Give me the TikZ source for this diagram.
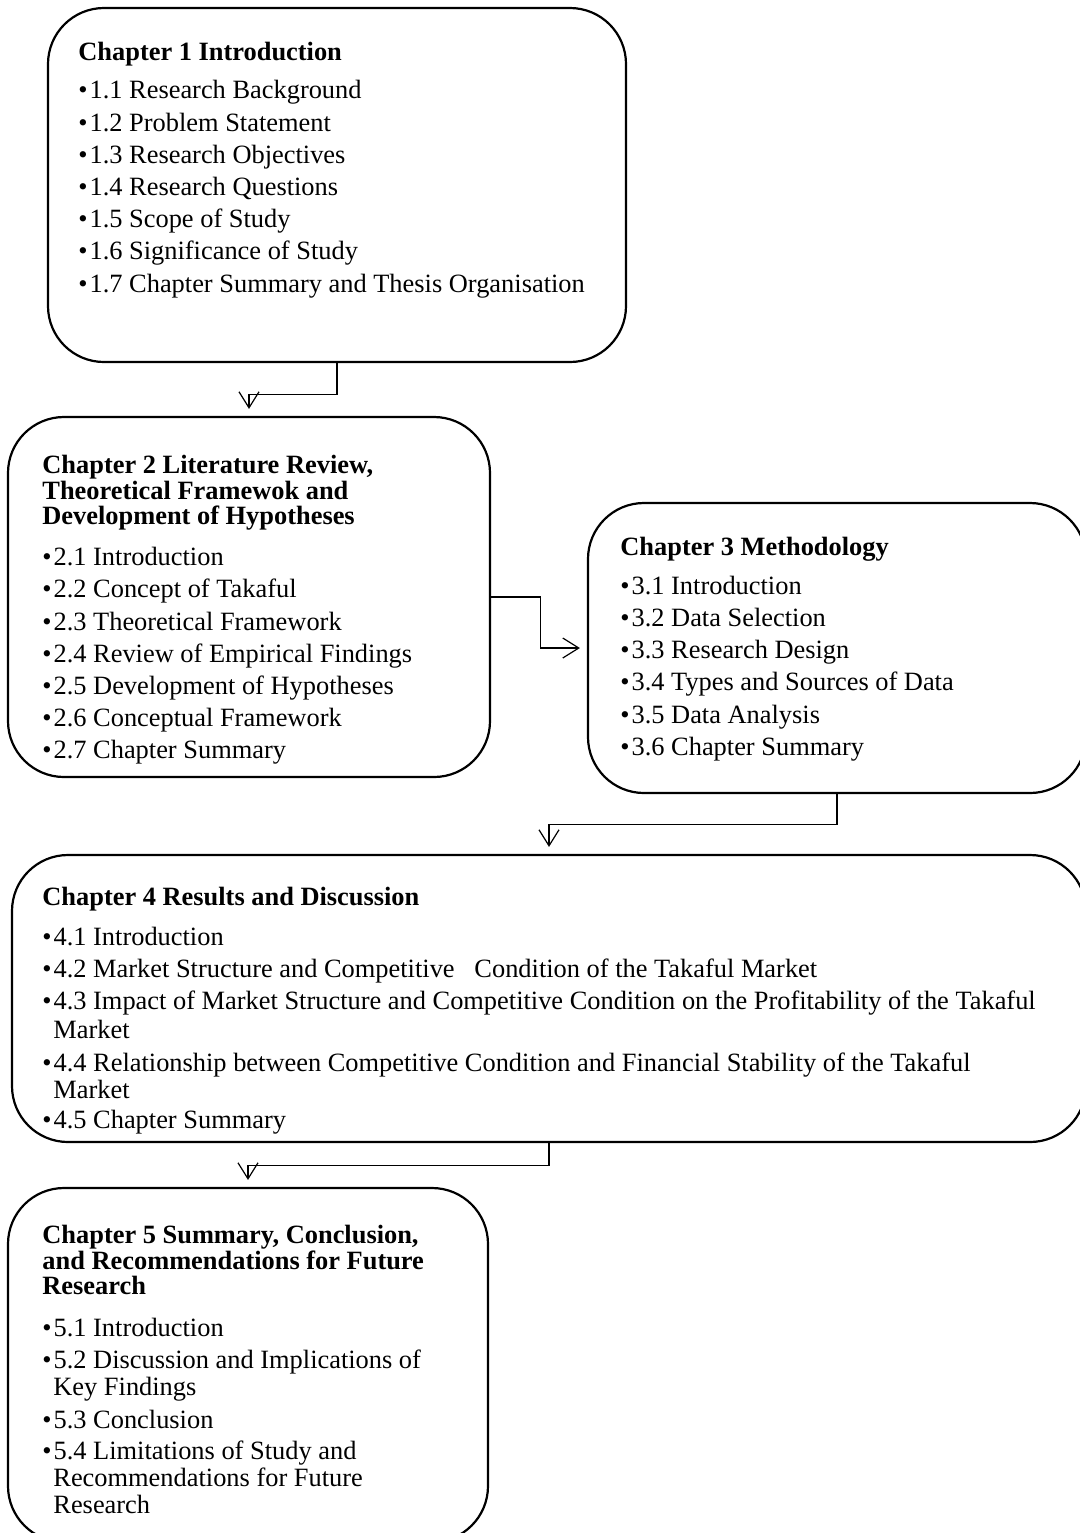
\documentclass[tikz,border=0pt]{standalone}
\usepackage{fontspec}
\setmainfont{Liberation Serif}
\usetikzlibrary{arrows.meta,fit}
\newcommand\bulbox{\makebox[5.6pt][l]{•}}
\newcommand\Tl[4]{\node[ttl] (#1) at (#2,#3) {#4};}
\newcommand\Bl[4]{\node[txt] (#1) at (#2,#3) {\bulbox#4};}
\newcommand\Cl[4]{\node[txt] (#1) at (#2,#3) {#4};}
\tikzset{
  txt/.style={anchor=base west, inner sep=0pt, font=\fontsize{13.2}{15}\selectfont},
  ttl/.style={anchor=base west, inner sep=0pt, font=\fontsize{13.2}{15}\selectfont\bfseries},
  chbox/.style={draw, line width=1.1pt, rounded corners=28pt, inner sep=0pt},
  conn/.style={draw, line width=0.6pt, -{Straight Barb[length=8pt,width=10pt,line width=0.6pt]}, shorten >=3.5pt}
}
\begin{document}
\begin{tikzpicture}[x=0.5pt,y=-0.5pt]
\useasboundingbox (0,0) rectangle (1080,1533);
\clip (0,0) rectangle (1080,1533);
\fill[white] (0,0) rectangle (1080,1533);
% boxes
\node[chbox, fit={(48,8) (626,362)}] (c1) {};
\node[chbox, fit={(8,417) (490,777)}] (c2) {};
\node[chbox, fit={(588,503) (1086,793)}] (c3) {};
\node[chbox, fit={(12,855) (1086,1142)}] (c4) {};
\node[chbox, fit={(8,1188) (488,1542)}] (c5) {};
% box 1
\Tl{t1}{78}{60}{Chapter 1 Introduction}
\Bl{i11}{78}{98}{1.1 Research Background}
\Bl{i12}{78}{131}{1.2 Problem Statement}
\Bl{i13}{78}{163}{1.3 Research Objectives}
\Bl{i14}{78}{195}{1.4 Research Questions}
\Bl{i15}{78}{227}{1.5 Scope of Study}
\Bl{i16}{78}{259}{1.6 Significance of Study}
\Bl{i17}{78}{292}{1.7 Chapter Summary and Thesis Organisation}
% box 2
\Tl{t2a}{42}{473}{Chapter 2 Literature Review,}
\Tl{t2b}{42}{499}{Theoretical Framewok and}
\Tl{t2c}{42}{524}{Development of Hypotheses}
\Bl{i21}{42}{565}{2.1 Introduction}
\Bl{i22}{42}{597}{2.2 Concept of Takaful}
\Bl{i23}{42}{630}{2.3 Theoretical Framework}
\Bl{i24}{42}{662}{2.4 Review of Empirical Findings}
\Bl{i25}{42}{694}{2.5 Development of Hypotheses}
\Bl{i26}{42}{726}{2.6 Conceptual Framework}
\Bl{i27}{42}{758}{2.7 Chapter Summary}
% box 3
\Tl{t3}{620}{555}{Chapter 3 Methodology}
\Bl{i31}{620}{594}{3.1 Introduction}
\Bl{i32}{620}{626}{3.2 Data Selection}
\Bl{i33}{620}{658}{3.3 Research Design}
\Bl{i34}{620}{690}{3.4 Types and Sources of Data}
\Bl{i35}{620}{723}{3.5 Data Analysis}
\Bl{i36}{620}{755}{3.6 Chapter Summary}
% box 4
\Tl{t4}{42}{905}{Chapter 4 Results and Discussion}
\Bl{i41}{42}{945}{4.1 Introduction}
\Bl{i42}{42}{977}{4.2 Market Structure and Competitive\ \ \ Condition of the Takaful Market}
\Bl{i43}{42}{1009}{4.3 Impact of Market Structure and Competitive Condition on the Profitability of the Takaful}
\Cl{i43b}{53}{1038}{Market}
\Bl{i44}{42}{1071}{4.4 Relationship between Competitive Condition and Financial Stability of the Takaful}
\Cl{i44b}{53}{1098}{Market}
\Bl{i45}{42}{1128}{4.5 Chapter Summary}
% box 5
\Tl{t5a}{42}{1243}{Chapter 5 Summary, Conclusion,}
\Tl{t5b}{42}{1269}{and Recommendations for Future}
\Tl{t5c}{42}{1294}{Research}
\Bl{i51}{42}{1336}{5.1 Introduction}
\Bl{i52}{42}{1368}{5.2 Discussion and Implications of}
\Cl{i52b}{53}{1395}{Key Findings}
\Bl{i53}{42}{1428}{5.3 Conclusion}
\Bl{i54}{42}{1459}{5.4 Limitations of Study and}
\Cl{i54b}{53}{1486}{Recommendations for Future}
\Cl{i54c}{53}{1513}{Research}
% connectors
\draw[conn] (c1.south) -- ++(0,31) -| (c2.north);
\draw[conn] (c2.east) -- ++(49,0) |- (c3.west);
\draw[conn] (c3.south) -- ++(0,30) -| (c4.north);
\draw[conn] (c4.south) -- ++(0,22) -| (c5.north);
\end{tikzpicture}
\end{document}
